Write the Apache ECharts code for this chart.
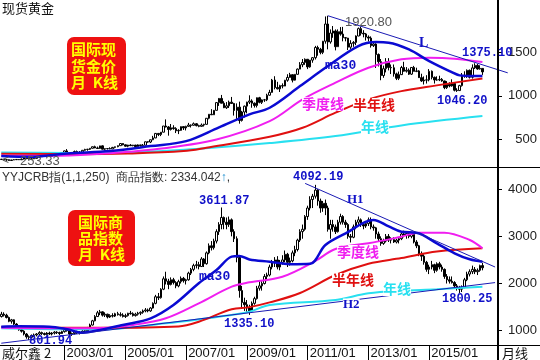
<!DOCTYPE html>
<html><head><meta charset="utf-8">
<script src="https://cdn.jsdelivr.net/npm/echarts@6.0.0/dist/echarts.min.js"></script>
<style>html,body{margin:0;padding:0;background:#fff}#c{width:540px;height:360px}</style>
</head><body><div id="c"></div><script>
// ---------- DATA ----------
// months: index 0 = 2000/12 ; candles run to 2016/10 (index 190); axis runs to index 200
const startYear = 2000, startMonth = 12, axisMonths = 201;
const xTickLabels = ['2003/01','2005/01','2007/01','2009/01','2011/01','2013/01','2015/01'];
const goldTicks = [500, 1000, 1500];
const crbTicks = [1000, 2000, 3000, 4000];

const goldOpen0 = 269;
const goldClose = [273,
265,267,258,264,267,270,266,273,293,279,275,277,
282,297,301,309,326,318,304,312,324,317,318,347,
368,347,334,337,361,346,354,375,385,386,398,416,
402,396,426,388,394,395,391,408,416,428,453,438,
422,435,428,435,417,437,429,433,473,470,496,517,
569,556,583,654,643,614,633,624,599,604,647,632,
650,665,662,680,658,650,665,673,743,789,783,834,
923,971,916,864,886,928,913,833,871,718,815,882,
928,942,916,890,979,926,954,955,1008,1040,1182,1096,
1081,1118,1113,1180,1212,1244,1181,1248,1308,1358,1384,1421,
1333,1411,1439,1556,1536,1500,1628,1826,1620,1722,1746,1565,
1738,1710,1669,1664,1560,1604,1614,1688,1773,1720,1712,1676,
1664,1578,1596,1476,1393,1234,1312,1395,1327,1323,1253,1202,
1244,1326,1284,1295,1250,1327,1282,1287,1210,1172,1182,1184,
1283,1213,1183,1183,1190,1172,1095,1133,1115,1142,1065,1061,
1118,1238,1233,1294,1215,1322,1351,1309,1316,1276];
const goldHigh = [275,
274,268,270,264,273,274,272,281,300,294,281,281,
284,302,304,309,327,330,327,316,326,325,323,349,
372,389,352,340,372,372,366,378,392,392,399,417,
428,418,427,431,397,400,409,414,417,430,456,456,
441,438,446,437,437,443,438,447,474,478,497,541,
574,574,585,654,730,653,677,663,640,617,649,646,
657,690,672,695,688,669,683,680,745,792,848,838,
929,976,1011,939,929,946,988,920,914,934,828,889,
933,1007,961,925,982,989,960,965,1025,1070,1195,1226,
1162,1128,1144,1184,1249,1265,1245,1250,1315,1388,1424,1431,
1424,1411,1447,1575,1577,1552,1632,1913,1921,1764,1803,1764,
1764,1791,1793,1677,1667,1640,1630,1695,1786,1796,1755,1723,
1695,1684,1617,1605,1488,1424,1348,1434,1434,1361,1361,1267,
1280,1345,1392,1331,1315,1330,1345,1324,1296,1255,1224,1238,
1308,1292,1223,1225,1232,1205,1175,1170,1157,1191,1142,1088,
1127,1263,1283,1304,1303,1362,1375,1366,1352,1314];
const goldLow = [268,
262,255,255,253,263,265,263,266,270,277,270,272,
276,282,288,299,308,313,302,300,311,312,315,316,
343,345,321,319,336,342,341,351,370,370,379,397,
399,394,392,385,371,384,387,390,398,410,426,432,
417,410,425,421,414,415,418,428,432,462,458,491,
514,538,538,582,637,543,602,611,573,561,600,608,
603,649,637,663,650,640,646,648,671,731,781,782,
834,885,917,860,850,861,908,774,736,681,705,752,
800,907,864,866,867,915,907,931,940,1003,1044,1075,
1075,1045,1087,1112,1163,1209,1155,1176,1245,1315,1330,1357,
1308,1324,1381,1418,1462,1478,1480,1600,1535,1600,1668,1523,
1563,1692,1627,1627,1527,1540,1564,1583,1686,1693,1673,1636,
1625,1555,1562,1321,1338,1180,1208,1270,1293,1251,1221,1182,
1182,1240,1278,1268,1241,1240,1281,1273,1206,1161,1131,1142,
1167,1190,1142,1175,1170,1162,1077,1080,1099,1106,1052,1046,
1061,1107,1208,1207,1200,1199,1310,1301,1302,1241];

// moving-average lines: [monthIndex, value]
const goldMa30 = [[0,310],[12,300],[26,339],[43,366],[59,423],[73,480],[86,638],[98,787],[106,864],[118,1113],[129,1343],[141,1572],[148,1618],[153,1611],[161,1534],[169,1400],[177,1285],[181,1236],[186,1228],[190,1228]];
const goldMa60 = [[0,312],[20,312],[39,336],[59,380],[85,500],[106,710],[119,960],[132,1152],[145,1324],[158,1420],[169,1439],[179,1428],[190,1389]];
const goldMa120 = [[0,335],[30,330],[50,338],[72,366],[81,405],[106,531],[119,634],[132,807],[145,960],[158,1055],[172,1121],[190,1201]];
const goldMa250 = [[0,350],[26,345],[52,352],[78,393],[106,458],[132,538],[158,661],[190,768]];
const goldTrendL = [[129,1921],[200,1265]];

const crbOpen0 = 1300;
const crbClose = [1350,
1330,1280,1200,1230,1140,1080,1020,990,930,870,860,900,
910,930,960,940,920,950,930,950,970,960,940,980,
1020,1000,930,940,970,960,950,990,1000,1060,1120,1210,
1300,1380,1400,1330,1350,1290,1320,1310,1360,1340,1330,1300,
1320,1370,1360,1320,1350,1370,1390,1420,1440,1420,1480,1580,
1720,1700,1880,2100,2050,1980,2080,2020,1950,2040,2110,2060,
2080,2220,2300,2380,2400,2360,2520,2420,2650,2800,2760,2900,
3100,3250,3400,3300,3250,3350,3100,2950,2550,1850,1600,1550,
1480,1420,1580,1680,1900,1950,2000,2150,2180,2350,2450,2500,
2350,2450,2500,2620,2450,2480,2650,2720,2920,3100,3150,3420,
3600,3780,3850,3980,3750,3600,3700,3600,3150,3250,3200,3100,
3300,3420,3300,3250,3000,2980,3200,3300,3350,3250,3220,3270,
3350,3200,3180,3050,2950,2850,2900,3000,2920,2930,2880,2920,
2950,3050,3020,3060,3000,3040,2880,2800,2620,2580,2450,2300,
2350,2400,2280,2420,2350,2300,2150,2080,2050,2020,1950,1900,
1880,1920,2080,2200,2250,2300,2250,2280,2380,2334];
const crbHigh = [1400,
1390,1360,1300,1250,1240,1160,1100,1060,1010,950,900,920,
940,950,990,980,960,970,980,970,990,990,980,1000,
1050,1060,1010,960,990,1000,990,1010,1020,1080,1150,1230,
1330,1420,1440,1410,1390,1360,1350,1370,1380,1400,1390,1370,
1360,1380,1420,1390,1380,1400,1410,1450,1480,1470,1500,1600,
1760,1800,1900,2150,2250,2100,2130,2120,2050,2080,2150,2140,
2100,2250,2330,2420,2480,2460,2560,2540,2680,2850,2900,2950,
3150,3300,3612,3420,3400,3420,3380,3150,3000,2600,1950,1700,
1650,1550,1620,1720,1950,2050,2050,2200,2230,2400,2500,2560,
2580,2500,2600,2700,2650,2550,2700,2800,2950,3150,3250,3450,
3650,3850,3900,4092,4000,3800,3750,3780,3650,3350,3350,3250,
3350,3480,3450,3350,3280,3050,3250,3350,3420,3380,3300,3300,
3400,3400,3250,3200,3100,3000,2950,3050,3050,2980,2980,2950,
2980,3080,3120,3100,3100,3080,3050,2920,2820,2680,2620,2480,
2400,2480,2420,2450,2460,2400,2320,2200,2150,2150,2050,1990,
1950,1960,2120,2250,2300,2380,2350,2320,2400,2440];
const crbLow = [1280,
1300,1260,1180,1150,1120,1050,1000,960,900,830,802,840,
870,880,900,910,900,900,910,900,920,930,910,930,
960,980,900,890,920,930,920,940,950,990,1050,1110,
1200,1290,1330,1300,1290,1260,1270,1280,1290,1320,1300,1280,
1270,1300,1340,1300,1300,1320,1330,1360,1390,1390,1400,1470,
1560,1650,1680,1860,1980,1880,1960,1980,1900,1920,2000,2020,
1980,2060,2180,2260,2320,2300,2350,2350,2400,2620,2700,2720,
2850,3030,3150,3150,3150,3200,3000,2880,2450,1700,1500,1420,
1400,1335,1400,1550,1660,1850,1850,1980,2050,2150,2300,2350,
2300,2280,2400,2450,2350,2380,2450,2580,2680,2880,2950,3120,
3350,3550,3600,3800,3650,3500,3520,3450,3100,2950,3100,3050,
3080,3250,3250,3180,2950,2870,2960,3150,3230,3200,3150,3180,
3220,3150,3120,2950,2900,2800,2820,2870,2880,2850,2860,2850,
2850,2920,2980,2950,2960,2960,2850,2750,2580,2480,2400,2250,
2200,2300,2220,2250,2300,2250,2100,2000,2000,2000,1900,1850,
1800,1820,1900,2050,2150,2200,2200,2180,2250,2280];

const crbMa30 = [[0,1085],[7,1092],[19,1085],[26,1030],[32,958],[39,1015],[48,1121],[59,1263],[68,1545],[78,2005],[85,2287],[91,2570],[94,2585],[98,2510],[106,2463],[114,2410],[122,2420],[128,2817],[136,3065],[147,3347],[153,3210],[158,3099],[164,3078],[172,2852],[179,2641],[185,2514],[190,2463]];
const crbMa60 = [[0,1060],[20,1050],[39,1057],[52,1121],[65,1263],[78,1580],[91,1933],[98,2026],[111,2145],[124,2478],[131,2711],[137,2796],[145,2852],[158,2993],[165,3078],[175,3078],[185,2923],[190,2747]];
const crbMa120 = [[0,1080],[40,1060],[70,1090],[78,1191],[91,1453],[98,1500],[106,1600],[118,1800],[132,2180],[145,2420],[158,2540],[172,2680],[190,2750]];
const crbMa250 = [[0,1050],[26,1030],[39,1030],[65,1156],[91,1333],[98,1400],[106,1545],[132,1651],[145,1792],[158,1848],[172,1877],[190,1933]];
const crbTrendH1 = [[120,4122],[195,2350]];
const crbTrendH2 = [[0,735],[195,2020]];

// ---------- BUILD ----------
const cats = [];
for (let m = 0; m < axisMonths; m++) {
  const t = startMonth - 1 + m;
  const y = startYear + Math.floor(t / 12), mo = t % 12 + 1;
  cats.push(y + '/' + (mo < 10 ? '0' : '') + mo);
}
function ohlc(open0, close, high, low) {
  return close.map((c, i) => [i === 0 ? open0 : close[i - 1], c, low[i], high[i]]);
}
const tickSet = new Set(xTickLabels);
const BLUE = '#0a0ad2', MAG = '#f01ef0', RED = '#e01010', CYAN = '#28e0f0', TL = '#1a1ab4';
const FONT = 'Liberation Sans';

function maLine(data, color, xi, w) {
  return { type: 'line', xAxisIndex: xi, yAxisIndex: xi * 2, data: data, smooth: 0.35, symbol: 'none',
    lineStyle: { color: color, width: w || 2 }, z: 4, silent: true, animation: false };
}
function trend(data, xi) {
  return { type: 'line', xAxisIndex: xi, yAxisIndex: xi * 2, data: data, symbol: 'none', clip: false,
    lineStyle: { color: TL, width: 1 }, z: 5, silent: true, animation: false };
}
function candle(data, xi) {
  return { type: 'candlestick', xAxisIndex: xi, yAxisIndex: xi * 2, data: data, barWidth: 2, z: 3,
    itemStyle: { color: '#ffffff', color0: '#000000', borderColor: '#000000', borderColor0: '#000000', borderWidth: 1 },
    silent: true, animation: false };
}
function rightAxis(gi, min, max, ticks) {
  return { type: 'value', gridIndex: gi, position: 'right', offset: -12, min: min, max: max, scale: true,
    axisLine: { show: false }, splitLine: { show: false },
    axisTick: { show: true, inside: false, length: 5, customValues: ticks, lineStyle: { color: '#000', width: 1 } },
    axisLabel: { show: true, customValues: ticks, formatter: v => String(v), align: 'right', margin: 40, fontSize: 13, color: '#222', fontFamily: FONT } };
}
function dotAxis(gi, min, max, step) {
  const vals = [];
  for (let v = Math.ceil(min / step) * step; v <= max; v += step) vals.push(v);
  return { type: 'value', gridIndex: gi, position: 'right', offset: -12, min: min, max: max, scale: true,
    axisLine: { show: false }, splitLine: { show: false }, axisLabel: { show: false },
    axisTick: { show: true, inside: false, length: 2, customValues: vals, lineStyle: { color: '#444', width: 1 } } };
}

function txt(x, y, text, font, fill, extra) {
  return { type: 'text', z: 100, style: Object.assign({ x: x, y: y, text: text, font: font, fill: fill, textVerticalAlign: 'middle' }, extra || {}) };
}
const NUMF = 'bold 12px "Liberation Mono"';
const CJKF = 'bold 14px "Noto Sans CJK SC"';
const WB = { backgroundColor: '#fff' };
const BOXF = 'bold 15px "Noto Sans CJK SC"';

const graphics = [
  { type: 'line', z: 90, shape: { x1: 0, y1: 167.5, x2: 540, y2: 167.5 }, style: { stroke: '#000', lineWidth: 1 } },
  { type: 'line', z: 90, shape: { x1: 0, y1: 345.5, x2: 540, y2: 345.5 }, style: { stroke: '#000', lineWidth: 1 } },
  { type: 'line', z: 90, shape: { x1: 498, y1: 0, x2: 498, y2: 360 }, style: { stroke: '#000', lineWidth: 2 } },
  txt(2, 8, '现货黄金', '13px "Noto Sans CJK SC"', '#111'),
  // gold annotations
  txt(345, 22, '1920.80', '13px ' + FONT, '#555'),
  txt(419, 43, 'L', 'bold 14px "Liberation Serif"', '#1010c8'),
  txt(462, 53, '1375.10', NUMF, '#1010c8'),
  txt(325, 66, 'ma30', 'bold 13px "Liberation Mono"', '#1010c8'),
  txt(302, 104, '季度线', CJKF, MAG, WB),
  txt(353, 105, '半年线', CJKF, '#e01010', WB),
  txt(437, 101, '1046.20', NUMF, '#1010c8'),
  txt(361, 127, '年线', CJKF, CYAN, WB),
  txt(2, 161, '<', '12px ' + FONT, '#555'),
  txt(20, 161, '253.33', '13px ' + FONT, '#555'),
  { type: 'rect', z: 95, shape: { x: 67, y: 37, width: 59, height: 58, r: 7 }, style: { fill: '#ee1111' } },
  txt(71, 49, '国际现', BOXF, '#ffff00'),
  txt(71, 66, '货金价', BOXF, '#ffff00'),
  txt(71, 82, '月  K线', BOXF, '#ffff00'),
  // crb header & annotations
  { type: 'text', z: 100, style: { x: 2, y: 178, textVerticalAlign: 'middle',
      text: '{a|YYJCRB指(1,1,250)  商品指数: 2334.042}{b|↑}{a|,}',
      rich: { a: { font: '12px ' + FONT, fill: '#333' }, b: { font: '12px ' + FONT, fill: '#2090d0' } } } },
  txt(293, 177, '4092.19', NUMF, '#1010c8'),
  txt(347, 200, 'H1', 'bold 13px "Liberation Serif"', '#1010c8'),
  txt(199, 201, '3611.87', NUMF, '#1010c8'),
  txt(199, 277, 'ma30', 'bold 13px "Liberation Mono"', '#1010c8'),
  txt(337, 252, '季度线', CJKF, MAG, WB),
  txt(332, 280, '半年线', CJKF, '#e01010', WB),
  txt(383, 289, '年线', CJKF, CYAN, WB),
  txt(343, 305, 'H2', 'bold 13px "Liberation Serif"', '#1010c8', WB),
  txt(442, 299, '1800.25', NUMF, '#1010c8'),
  txt(224, 324, '1335.10', NUMF, '#1010c8'),
  txt(29, 341, '801.94', NUMF, '#1010c8'),
  { type: 'rect', z: 95, shape: { x: 68, y: 210, width: 67, height: 56, r: 7 }, style: { fill: '#ee1111' } },
  txt(78, 222, '国际商', BOXF, '#ffff00'),
  txt(78, 238, '品指数', BOXF, '#ffff00'),
  txt(78, 254, '月  K线', BOXF, '#ffff00'),
  // x-axis strip
  txt(2, 353, '威尔鑫 2', '13px "Noto Sans CJK SC"', '#111'),
  txt(502, 353, '月线', '13px "Noto Sans CJK SC"', '#111')
];

const chart = echarts.init(document.getElementById('c'), null, { renderer: 'canvas' });
chart.setOption({
  animation: false,
  backgroundColor: '#ffffff',
  grid: [
    { left: 0, right: 30, top: 0, height: 167 },
    { left: 0, right: 30, top: 167, height: 178 }
  ],
  xAxis: [
    { type: 'category', gridIndex: 0, data: cats, boundaryGap: true, axisLine: { show: false }, axisTick: { show: false }, axisLabel: { show: false } },
    { type: 'category', gridIndex: 1, data: cats, boundaryGap: true, axisLine: { show: false },
      axisTick: { show: true, alignWithLabel: true, length: 15, interval: (i, v) => tickSet.has(v), lineStyle: { color: '#000' } },
      axisLabel: { show: true, interval: (i, v) => tickSet.has(v), align: 'left', padding: [0, 0, 0, 2], margin: 2, fontSize: 13, color: '#111', fontFamily: FONT } }
  ],
  yAxis: [
    rightAxis(0, 183, 2102, goldTicks), dotAxis(0, 183, 2102, 100),
    rightAxis(1, 697, 4470, crbTicks), dotAxis(1, 697, 4470, 200)
  ],
  series: [
    candle(ohlc(goldOpen0, goldClose, goldHigh, goldLow), 0),
    maLine(goldMa250, CYAN, 0), maLine(goldMa120, RED, 0), maLine(goldMa60, MAG, 0), maLine(goldMa30, BLUE, 0, 2.5),
    trend(goldTrendL, 0),
    candle(ohlc(crbOpen0, crbClose, crbHigh, crbLow), 1),
    maLine(crbMa250, CYAN, 1), maLine(crbMa120, RED, 1), maLine(crbMa60, MAG, 1), maLine(crbMa30, BLUE, 1, 2.5),
    trend(crbTrendH1, 1), trend(crbTrendH2, 1)
  ],
  graphic: graphics
});
</script></body></html>
